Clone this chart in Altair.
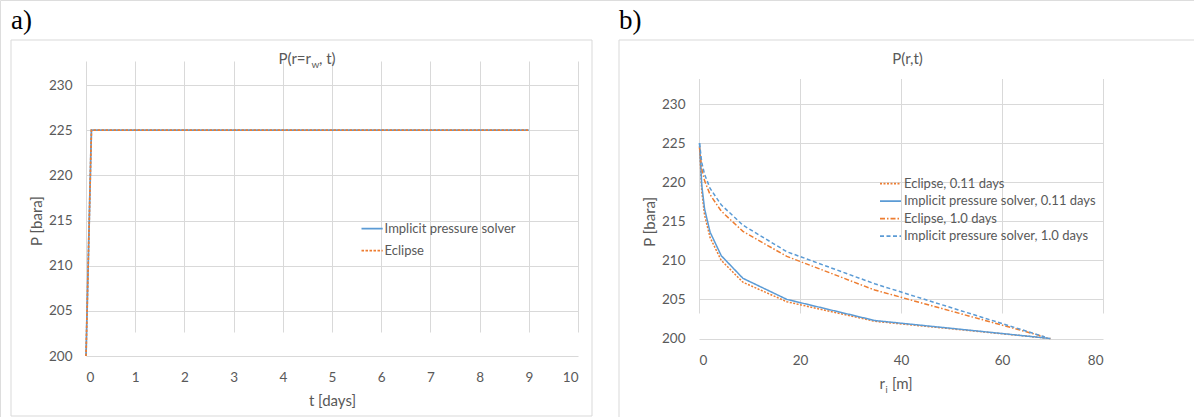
import altair as alt
import pandas as pd

# ---- panel a: pressure at the well radius over time ----
t_days = [0.0, 0.11, 9.0]
p_well_implicit = [200.0, 225.0, 225.0]
p_well_eclipse = [200.0, 225.0, 225.0]

series_a = ["Implicit pressure solver", "Eclipse"]
colors_a = ["#5B9BD5", "#ED7D31"]
dashes_a = [[1, 0], [2.5, 1.5]]

# ---- panel b: radial pressure profiles ----
r_early = [0.1, 0.55, 1.1, 2.2, 4.4, 8.7, 17.4, 34.8, 69.6]
r_late = [0.1, 0.55, 1.1, 2.2, 4.4, 8.7, 17.4, 34.8, 68.5]
p_ecl_011 = [224.6, 218.8, 215.8, 212.9, 210.0, 207.2, 204.7, 202.2, 200.0]
p_imp_011 = [225.0, 219.6, 216.6, 213.6, 210.6, 207.7, 205.0, 202.3, 200.0]
p_ecl_10 = [224.4, 221.7, 220.2, 218.4, 216.3, 213.7, 210.5, 206.2, 200.2]
p_imp_10 = [225.0, 222.5, 221.0, 219.2, 217.1, 214.5, 211.1, 207.0, 200.2]

series_b = [
    "Eclipse, 0.11 days",
    "Implicit pressure solver, 0.11 days",
    "Eclipse, 1.0 days",
    "Implicit pressure solver, 1.0 days",
]
colors_b = ["#ED7D31", "#5B9BD5", "#ED7D31", "#5B9BD5"]
dashes_b = [[2, 1.5], [1, 0], [5, 2, 1.5, 2], [4, 2.5]]

y_ticks = [200, 205, 210, 215, 220, 225, 230]
x_ticks_a = list(range(11))
x_ticks_b = [0, 20, 40, 60, 80]

FONT = "Lato"
GREY = "#595959"
GRID = "#D9D9D9"
W, H = 1194, 417

# plot rectangles in page pixels: (left, right, top, bottom)
A_BOX = (86, 578, 85, 356)
B_BOX = (699, 1103, 104, 338.5)

df_a = pd.DataFrame({
    "t": t_days + t_days,
    "p": p_well_implicit + p_well_eclipse,
    "series": [series_a[0]] * len(t_days) + [series_a[1]] * len(t_days),
    "idx": list(range(len(t_days))) * 2,
})

df_b = pd.concat([
    pd.DataFrame({"r": r, "p": p, "series": s, "idx": range(len(r))})
    for r, p, s in [
        (r_early, p_ecl_011, series_b[0]),
        (r_early, p_imp_011, series_b[1]),
        (r_late, p_ecl_10, series_b[2]),
        (r_late, p_imp_10, series_b[3]),
    ]
], ignore_index=True)

one = pd.DataFrame({"k": [0]})


def text(s, x, y, size=15, align="left", baseline="alphabetic", font=FONT, color=GREY):
    return alt.Chart(one).mark_text(
        text=s, font=font, fontSize=size, align=align, baseline=baseline, color=color
    ).encode(x=alt.value(x), y=alt.value(y))


def hline(x0, x1, y):
    return alt.Chart(one).mark_rule(color=GRID, strokeWidth=1).encode(
        x=alt.value(x0), x2=alt.value(x1), y=alt.value(y)
    )


def vline(x, y0, y1):
    return alt.Chart(one).mark_rule(color=GRID, strokeWidth=1).encode(
        x=alt.value(x), y=alt.value(y0), y2=alt.value(y1)
    )


def legend_rows(names, colors, dashes, x0, x1, xt, ys):
    layers = []
    for name, c, d, yy in zip(names, colors, dashes, ys):
        layers.append(
            alt.Chart(one).mark_rule(color=c, strokeDash=d, strokeWidth=1.75).encode(
                x=alt.value(x0), x2=alt.value(x1), y=alt.value(yy)
            )
        )
        layers.append(text(name, xt, yy, size=13, baseline="middle"))
    return layers


def y_axis(box, title):
    return alt.Axis(
        orient="left", offset=-box[0], values=y_ticks, title=title, grid=True,
        gridColor=GRID, domain=False, ticks=False, tickSize=0, labelPadding=14,
        labelFont=FONT, labelFontSize=13.5, labelColor=GREY, titleFont=FONT,
        titleFontSize=15, titleFontWeight="normal", titleColor=GREY, titleAngle=270,
        titleX=-50, titleAlign="center", titleBaseline="middle",
    )


def x_axis(box, values, title, label_pad):
    kw = {}
    if title is not None:
        kw = dict(titleFont=FONT, titleFontSize=15, titleFontWeight="normal",
                  titleColor=GREY, titleY=44, titleBaseline="middle")
    return alt.Axis(
        orient="bottom", offset=box[3] - H, values=values, title=title, grid=True,
        gridColor=GRID, domain=False, ticks=False, tickSize=0, labelPadding=label_pad,
        labelBaseline="middle", labelFont=FONT, labelFontSize=13.5, labelColor=GREY,
        **kw,
    )


# ---------- panel a ----------
lines_a = alt.Chart(df_a).mark_line(strokeWidth=1.75).encode(
    x=alt.X("t:Q", scale=alt.Scale(domain=[0, 10], range=[A_BOX[0], A_BOX[1]], nice=False),
            axis=x_axis(A_BOX, x_ticks_a, "t [days]", 21)),
    y=alt.Y("p:Q", scale=alt.Scale(domain=[200, 230], range=[A_BOX[3], A_BOX[2]], nice=False),
            axis=y_axis(A_BOX, "P [bara]")),
    color=alt.Color("series:N", scale=alt.Scale(domain=series_a, range=colors_a), legend=None),
    strokeDash=alt.StrokeDash("series:N", scale=alt.Scale(domain=series_a, range=dashes_a), legend=None),
    order="idx:Q",
)

# ---------- panel b ----------
lines_b = alt.Chart(df_b).mark_line(strokeWidth=1.5).encode(
    x=alt.X("r:Q", scale=alt.Scale(domain=[0, 80], range=[B_BOX[0], B_BOX[1]], nice=False),
            axis=x_axis(B_BOX, x_ticks_b, None, 22)),
    y=alt.Y("p:Q", scale=alt.Scale(domain=[200, 230], range=[B_BOX[3], B_BOX[2]], nice=False),
            axis=y_axis(B_BOX, "P [bara]")),
    color=alt.Color("series:N", scale=alt.Scale(domain=series_b, range=colors_b), legend=None),
    strokeDash=alt.StrokeDash("series:N", scale=alt.Scale(domain=series_b, range=dashes_b), legend=None),
    order="idx:Q",
)

decor = [
    # chart-area frames
    hline(11, 592, 40), hline(11, 592, 416), vline(11, 40, 416), vline(592, 40, 416),
    hline(619, W, 40), vline(619, 40, H),
    # panel letters and titles
    text("a)", 11, 29, size=27, font="Liberation Serif", color="black"),
    text("b)", 619, 29, size=27, font="Liberation Serif", color="black"),
    text("P(r=r", 311, 64, align="right"),
    text("w", 311.5, 68, size=10),
    text(", t)", 319, 64),
    text("P(r,t)", 907.6, 64, align="center"),
    # x title of panel b with subscript
    text("r", 885, 389, align="right"),
    text("i", 885.5, 393, size=9),
    text("[m]", 892, 389),
]

legends = (
    legend_rows(series_a, colors_a, dashes_a, 361.5, 382.7, 384.6, [228.7, 250.7])
    + legend_rows(series_b, colors_b, dashes_b, 880, 901, 904, [183.7, 201, 218.7, 236])
)

chart = alt.layer(lines_a, lines_b, *decor, *legends).resolve_scale(
    x="independent", y="independent", color="independent", strokeDash="independent"
).properties(
    width=W, height=H, padding=0, autosize=alt.AutoSizeParams(type="none")
).configure_view(stroke=None).configure(background="white")

chart.save("out.html", embed_options={"renderer": "svg", "actions": False})
